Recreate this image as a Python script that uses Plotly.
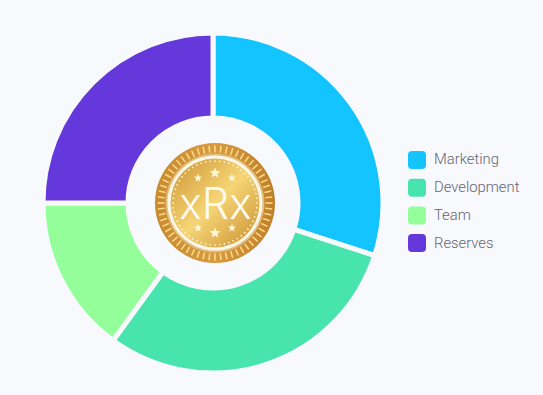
import base64, math
import plotly.graph_objects as go

labels = ["Marketing", "Development", "Team", "Reserves"]
values = [30, 30, 15, 25]
colors = ["#14C4FF", "#48E4AE", "#94FF9A", "#6438DA"]
center_text = "xRx"

W, H = 543, 395
BG = "#F8F9FD"
TEXT = "#656571"


def px(x):
    return x / W


def py(y):
    return 1 - y / H


def star(cx, cy, r):
    pts = []
    for i in range(10):
        a = -math.pi / 2 + i * math.pi / 5
        q = r if i % 2 == 0 else r * 0.45
        pts.append(f"{cx + q * math.cos(a):.2f},{cy + q * math.sin(a):.2f}")
    return f'<polygon points="{" ".join(pts)}" fill="#FFF6D8"/>'


def coin_svg():
    s = ['<svg xmlns="http://www.w3.org/2000/svg" width="240" height="240" viewBox="0 0 120 120">']
    s.append('<defs>'
             '<linearGradient id="a" x1="0" y1="0" x2="1" y2="0">'
             '<stop offset="0" stop-color="#C88A2E"/><stop offset="0.5" stop-color="#D89A3E"/>'
             '<stop offset="1" stop-color="#BE7F28"/></linearGradient>'
             '<linearGradient id="b" x1="0" y1="0" x2="1" y2="1">'
             '<stop offset="0" stop-color="#CC9432"/><stop offset="0.5" stop-color="#F6D576"/>'
             '<stop offset="1" stop-color="#C88E2E"/></linearGradient>'
             '</defs>')
    s.append('<circle cx="60" cy="60" r="60" fill="url(#a)"/>')
    n = 60
    for i in range(n):
        a = 2 * math.pi * i / n
        c, d = math.cos(a), math.sin(a)
        s.append(f'<line x1="{60 + 50.5 * c:.2f}" y1="{60 + 50.5 * d:.2f}" '
                 f'x2="{60 + 57.5 * c:.2f}" y2="{60 + 57.5 * d:.2f}" '
                 'stroke="#FAD98A" stroke-width="1.6"/>')
    s.append('<circle cx="60" cy="60" r="49.5" fill="#E2BE7C"/>')
    s.append('<circle cx="60" cy="60" r="47.5" fill="#FBF6EA"/>')
    s.append('<circle cx="60" cy="60" r="44.5" fill="url(#b)"/>')
    m = 56
    for i in range(m):
        a = 2 * math.pi * i / m
        s.append(f'<circle cx="{60 + 42 * math.cos(a):.2f}" cy="{60 + 42 * math.sin(a):.2f}" '
                 'r="0.85" fill="#FFF8E0"/>')
    for dx, dy, r in [(0, -30, 5.6), (-17, -25, 4.2), (17, -25, 4.2),
                      (0, 30, 5.6), (-17, 25, 4.2), (17, 25, 4.2)]:
        s.append(star(60 + dx, 60 + dy, r))
    s.append('</svg>')
    return "data:image/svg+xml;base64," + base64.b64encode("".join(s).encode()).decode()


fig = go.Figure(go.Pie(
    labels=labels,
    values=values,
    hole=0.50,
    sort=False,
    direction="clockwise",
    rotation=0,
    textinfo="none",
    hoverinfo="label+percent",
    marker=dict(colors=colors, line=dict(color=BG, width=5)),
    domain=dict(x=[px(43), px(383)], y=[py(373), py(33)]),
    showlegend=False,
))

shapes = []
annotations = []
for i, (lab, col) in enumerate(zip(labels, colors)):
    y0 = 151 + i * 27.7
    x0 = 408
    size = 18
    r = 4
    xs = px
    ys = py
    path = (f"M {xs(x0 + r)} {ys(y0)} L {xs(x0 + size - r)} {ys(y0)} "
            f"Q {xs(x0 + size)} {ys(y0)} {xs(x0 + size)} {ys(y0 + r)} "
            f"L {xs(x0 + size)} {ys(y0 + size - r)} "
            f"Q {xs(x0 + size)} {ys(y0 + size)} {xs(x0 + size - r)} {ys(y0 + size)} "
            f"L {xs(x0 + r)} {ys(y0 + size)} "
            f"Q {xs(x0)} {ys(y0 + size)} {xs(x0)} {ys(y0 + size - r)} "
            f"L {xs(x0)} {ys(y0 + r)} "
            f"Q {xs(x0)} {ys(y0)} {xs(x0 + r)} {ys(y0)} Z")
    shapes.append(dict(type="path", xref="paper", yref="paper", path=path,
                       fillcolor=col, line=dict(width=0)))
    annotations.append(dict(x=px(431.5), y=py(y0 + size / 2 - 0.5), xref="paper", yref="paper",
                            text=lab, showarrow=False, xanchor="left", yanchor="middle",
                            font=dict(family="Roboto", size=14.8, color=TEXT, weight=300)))

annotations.append(dict(x=px(215), y=py(203), xref="paper", yref="paper", text=center_text,
                        showarrow=False, xanchor="center", yanchor="middle",
                        font=dict(family="Inter", size=43, color="#FFFBEF", weight=300)))

fig.update_layout(
    width=W, height=H,
    margin=dict(l=0, r=0, t=0, b=0),
    paper_bgcolor=BG,
    plot_bgcolor=BG,
    shapes=shapes,
    annotations=annotations,
    images=[dict(source=coin_svg(), xref="paper", yref="paper",
                 x=px(155), y=py(143), sizex=120 / W, sizey=120 / H,
                 xanchor="left", yanchor="top", sizing="stretch", layer="above")],
)

fig.write_html(
    "out.html",
    config=dict(displayModeBar=False),
    post_script=f"document.body.style.margin='0';document.body.style.background='{BG}';"
                "document.body.style.overflow='hidden';",
)
